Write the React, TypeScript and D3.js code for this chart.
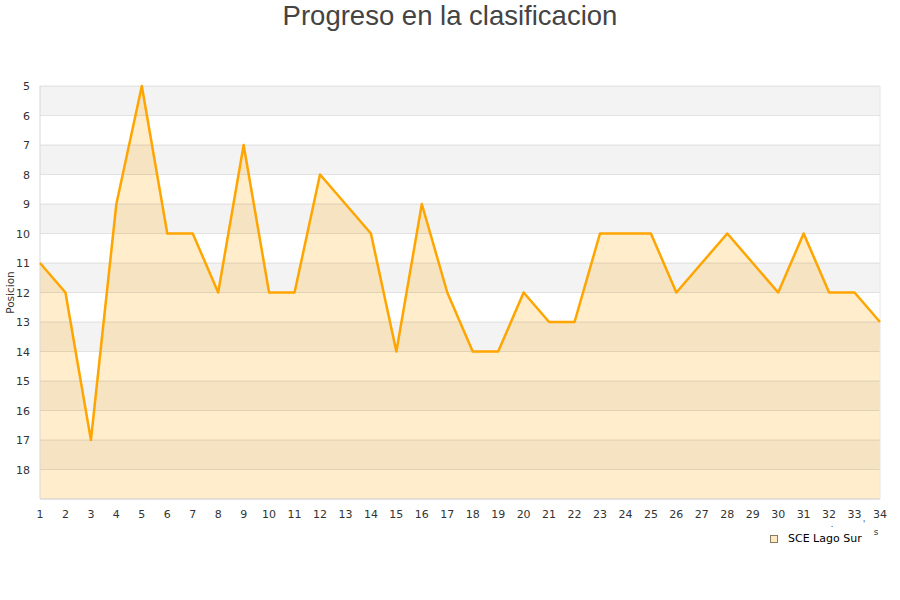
import { useMemo } from 'react';
import { scaleLinear, line, area } from 'd3';

// Jornada → posición de SCE Lago Sur
const JORNADAS  = Array.from({ length: 34 }, (_, i) => i + 1);
const POSICION  = [11, 12, 17, 9, 5, 10, 10, 12, 7, 12, 12, 8, 9, 10, 14, 9, 12, 14, 14, 12, 13, 13, 10, 10, 10, 12, 11, 10, 11, 12, 10, 12, 12, 13];
const Y_TICKS   = [5, 6, 7, 8, 9, 10, 11, 12, 13, 14, 15, 16, 17, 18];
const SERIE     = 'SCE Lago Sur';
const TITLE     = 'Progreso en la clasificacion';

const W = 900;
const H = 600;
const PLOT = { left: 40, right: 880, top: 86, bottom: 499 };

const LINE_COLOR = '#ffa500';
const FONT = '"Liberation Sans", Arial, sans-serif';
const TICK_FONT = '"DejaVu Sans", Verdana, sans-serif';

export default function App() {
  const x = useMemo(() => scaleLinear().domain([1, 34]).range([PLOT.left, PLOT.right]), []);
  const y = useMemo(() => scaleLinear().domain([5, 19]).range([PLOT.top, PLOT.bottom]), []);

  const pts = JORNADAS.map((j, i) => [j, POSICION[i]] as [number, number]);
  const linePath = line<[number, number]>().x((d) => x(d[0])).y((d) => y(d[1]))(pts) ?? '';
  const areaPath = area<[number, number]>().x((d) => x(d[0])).y0(y(19)).y1((d) => y(d[1]))(pts) ?? '';

  // bandas alternas: gris en 5-6, 7-8, ...
  const bands = [5, 6, 7, 8, 9, 10, 11, 12, 13, 14, 15, 16, 17, 18];

  return (
    <svg width={W} height={H} style={{ display: 'block', position: 'absolute', left: 0, top: 0, background: '#fff' }}>
      <text x={W / 2} y={25} textAnchor="middle" fontFamily={FONT} fontSize={27.5} fill="#444">
        {TITLE}
      </text>

      {bands.map((b) => (
        <rect
          key={b}
          x={PLOT.left}
          y={y(b)}
          width={PLOT.right - PLOT.left}
          height={y(b + 1) - y(b)}
          fill={(b - 5) % 2 === 0 ? '#f3f3f3' : '#ffffff'}
        />
      ))}

      <path d={areaPath} fill={LINE_COLOR} fillOpacity={0.2} />

      {/* grid */}
      {[...Y_TICKS, 19].map((t) => (
        <line key={t} x1={PLOT.left} x2={PLOT.right} y1={y(t)} y2={y(t)} stroke="#000" strokeOpacity={0.1} />
      ))}
      <line x1={PLOT.right} x2={PLOT.right} y1={PLOT.top} y2={PLOT.bottom} stroke="#e6e6e6" />
      <line x1={PLOT.left} x2={PLOT.left} y1={PLOT.top} y2={PLOT.bottom} stroke="#d8d8d8" />
      <line x1={PLOT.left} x2={PLOT.right} y1={PLOT.bottom} y2={PLOT.bottom} stroke="#d8d8d8" />

      <path d={linePath} fill="none" stroke={LINE_COLOR} strokeWidth={2.5} strokeLinejoin="round" />

      {/* eje Y */}
      {Y_TICKS.map((t) => (
        <text key={t} x={30} y={y(t) + 4} textAnchor="end" fontFamily={TICK_FONT} fontSize={11} fill="#333">
          {t}
        </text>
      ))}
      <text
        transform={`translate(14, ${(PLOT.top + PLOT.bottom) / 2}) rotate(-90)`}
        textAnchor="middle"
        fontFamily={TICK_FONT}
        fontSize={10.5}
        fill="#333"
      >
        Posicion
      </text>

      {/* eje X */}
      {JORNADAS.map((j) => (
        <text key={j} x={x(j)} y={518} textAnchor="middle" fontFamily={TICK_FONT} fontSize={11} fill="#333">
          {j}
        </text>
      ))}

      {/* restos del título del eje X */}
      <text x={832} y={527} textAnchor="middle" fontFamily={TICK_FONT} fontSize={8} fill="#333">.</text>
      <text x={864} y={527} textAnchor="middle" fontFamily={TICK_FONT} fontSize={8} fill="#333">'</text>
      <text x={876} y={535} textAnchor="middle" fontFamily={TICK_FONT} fontSize={9} fill="#333">s</text>

      {/* leyenda */}
      <rect x={770.5} y={535.5} width={7} height={7} fill="#fde9c4" stroke="#8a7a60" strokeWidth={1} />
      <text x={788} y={542} fontFamily={TICK_FONT} fontSize={11} fill="#000">
        {SERIE}
      </text>
    </svg>
  );
}
